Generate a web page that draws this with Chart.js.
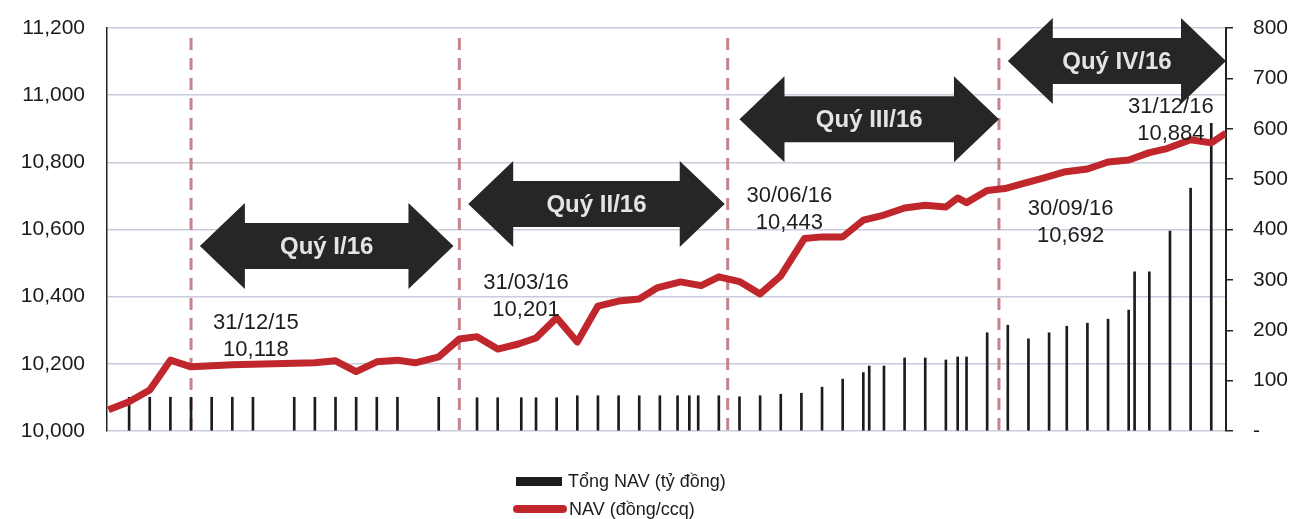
<!DOCTYPE html>
<html>
<head>
<meta charset="utf-8">
<script src="https://cdn.jsdelivr.net/npm/chart.js@4.4.1/dist/chart.umd.min.js"></script>
<style>
  body { margin: 0; background: #fff; }
  #wrap { width: 1297px; height: 519px; }
</style>
</head>
<body>
<div id="wrap"><canvas id="navChart" width="1297" height="519"></canvas></div>
<script>
// days counted from 31/12/2015
const navDays = [-28, -21, -14, -7, 0, 7, 14, 21, 28, 35, 42, 49, 56, 63, 70, 76, 84, 91, 97, 104,
    111, 117, 124, 131, 138, 145, 152, 158, 166, 173, 179, 186, 193, 200, 208, 214, 221, 228, 235, 242,
    249, 256, 260, 263, 270, 276, 283, 289, 296, 304, 311, 318, 325, 331, 339, 346, 351];
const navValues = [10063, 10087, 10122, 10211, 10191, 10194, 10197, 10199, 10200, 10202, 10203, 10209, 10177, 10206, 10211, 10203, 10221, 10274, 10281, 10244,
    10259, 10277, 10337, 10265, 10372, 10387, 10393, 10426, 10444, 10433, 10459, 10445, 10408, 10462, 10573, 10578, 10578, 10628, 10643, 10664,
    10672, 10667, 10694, 10680, 10716, 10722, 10739, 10753, 10771, 10780, 10801, 10807, 10829, 10841, 10867, 10858, 10887];

const aumDays = [-21, -14, -7, 0, 7, 14, 21, 35, 42, 49, 56, 63, 70, 84, 97, 104, 112, 117, 124,
    131, 138, 145, 152, 159, 165, 169, 172, 179, 186, 193, 200, 207, 214, 221, 228, 230, 235,
    242, 249, 256, 260, 263, 270, 277, 284, 291, 297, 304, 311, 318, 320, 325, 332, 339, 346];
const aumValues = [67, 67, 67, 67, 67, 67, 67, 67, 67, 67, 67, 67, 67, 67, 66, 66, 66, 66, 66,
    70, 70, 70, 70, 70, 70, 70, 70, 70, 68, 70, 73, 75, 87, 103, 116, 129, 129,
    145, 145, 141, 147, 147, 195, 210, 183, 195, 208, 214, 222, 240, 316, 316, 397, 482, 611];

const quarterEnds = [0, 91, 182, 274];
const quarterNames = ['Quý I/16', 'Quý II/16', 'Quý III/16', 'Quý IV/16'];
const arrowSpans = [[3, 89], [94, 181], [186, 274], [277, 351]];
const arrowLevels = [10551, 10676, 10928, 11102];

const pointDates = ['31/12/15', '31/03/16', '30/06/16', '30/09/16', '31/12/16'];
const pointNav = [10118, 10201, 10443, 10692, 10884];
const pointLabelDays = [22, 113.6, 202.9, 298.3, 332.3];
const pointLabelLevels = [10322, 10441, 10700, 10661, 10965];

function drawArrow(ctx, x1, x2, cy) {
    const head = 45, headH = 43, shaftH = 23;
    ctx.beginPath();
    ctx.moveTo(x1, cy);
    ctx.lineTo(x1 + head, cy - headH);
    ctx.lineTo(x1 + head, cy - shaftH);
    ctx.lineTo(x2 - head, cy - shaftH);
    ctx.lineTo(x2 - head, cy - headH);
    ctx.lineTo(x2, cy);
    ctx.lineTo(x2 - head, cy + headH);
    ctx.lineTo(x2 - head, cy + shaftH);
    ctx.lineTo(x1 + head, cy + shaftH);
    ctx.lineTo(x1 + head, cy + headH);
    ctx.closePath();
    ctx.fill();
}

// keep the tick padding from pushing the plot area down
function fixAxis(width) {
    return s => { s.width = width; s.paddingTop = 10; s.paddingBottom = 10; };
}

const annotations = {
    id: 'annotations',
    beforeDatasetsDraw(chart) {
        const { ctx, chartArea, scales } = chart;
        ctx.save();
        ctx.strokeStyle = '#c4838d';
        ctx.lineWidth = 3;
        ctx.setLineDash([12, 8]);
        quarterEnds.forEach(d => {
            const x = scales.x.getPixelForValue(d);
            ctx.beginPath();
            ctx.moveTo(x, chartArea.top + 10);
            ctx.lineTo(x, chartArea.bottom + 2);
            ctx.stroke();
        });
        ctx.restore();
    },
    afterDatasetsDraw(chart) {
        const { ctx, scales } = chart;
        ctx.save();
        // quarter arrows
        arrowSpans.forEach((span, i) => {
            const x1 = scales.x.getPixelForValue(span[0]);
            const x2 = scales.x.getPixelForValue(span[1]);
            const cy = scales.y.getPixelForValue(arrowLevels[i]);
            ctx.fillStyle = '#262626';
            drawArrow(ctx, x1, x2, cy);
            ctx.fillStyle = '#e4e4e4';
            ctx.font = 'bold 24px "Liberation Sans", Arial, sans-serif';
            ctx.textAlign = 'center';
            ctx.textBaseline = 'middle';
            ctx.fillText(quarterNames[i], (x1 + x2) / 2, cy + 1);
        });
        // date / NAV labels
        ctx.fillStyle = '#1e1e1e';
        ctx.font = '22px "Liberation Sans", Arial, sans-serif';
        pointDates.forEach((d, i) => {
            const x = scales.x.getPixelForValue(pointLabelDays[i]);
            const y = scales.y.getPixelForValue(pointLabelLevels[i]);
            ctx.fillText(d, x, y);
            ctx.fillText(pointNav[i].toLocaleString('en-US'), x, y + 27);
        });
        ctx.restore();
    },
    afterDraw(chart) {
        const ctx = chart.ctx;
        const ds = chart.data.datasets;
        ctx.save();
        ctx.font = '18px "Liberation Sans", Arial, sans-serif';
        ctx.textBaseline = 'middle';
        ctx.textAlign = 'left';
        // legend: bars
        ctx.fillStyle = '#1c1c1c';
        ctx.fillRect(516, 477, 46, 9);
        ctx.fillText(ds[1].label, 568, 482);
        // legend: line
        ctx.strokeStyle = ds[0].borderColor;
        ctx.lineWidth = 8;
        ctx.lineCap = 'round';
        ctx.beginPath();
        ctx.moveTo(517, 509);
        ctx.lineTo(563, 509);
        ctx.stroke();
        ctx.fillStyle = '#1c1c1c';
        ctx.fillText(ds[0].label, 569, 510);
        ctx.restore();
    }
};

const ctx = document.getElementById('navChart').getContext('2d');
new Chart(ctx, {
    type: 'bar',
    data: {
        datasets: [
            {
                type: 'line',
                label: 'NAV (đồng/ccq)',
                data: navDays.map((d, i) => ({ x: d, y: navValues[i] })),
                yAxisID: 'y',
                borderColor: '#c0272d',
                borderWidth: 7,
                borderJoinStyle: 'round',
                pointRadius: 0,
                tension: 0,
                order: 0
            },
            {
                type: 'bar',
                label: 'Tổng NAV (tỷ đồng)',
                data: aumDays.map((d, i) => ({ x: d, y: aumValues[i] })),
                yAxisID: 'y1',
                backgroundColor: '#1c1c1c',
                barThickness: 2,
                order: 1
            }
        ]
    },
    options: {
        responsive: false,
        animation: false,
        layout: { padding: { top: 28, bottom: 88, left: 0, right: 0 } },
        plugins: {
            legend: { display: false },
            tooltip: { enabled: false }
        },
        scales: {
            x: { type: 'linear', min: -28.5, max: 351, offset: false, display: false },
            y: {
                position: 'left',
                min: 10000, max: 11200,
                afterFit: fixAxis(107),
                ticks: {
                    stepSize: 200, padding: 22, color: '#1a1a1a',
                    font: { family: '"Liberation Sans", Arial, sans-serif', size: 21 },
                    callback: v => v.toLocaleString('en-US')
                },
                grid: { color: '#c9cbdb', lineWidth: 1.5, drawTicks: false },
                border: { color: '#222', width: 1.5 }
            },
            y1: {
                position: 'right',
                min: 0, max: 800,
                afterFit: fixAxis(71),
                ticks: {
                    stepSize: 100, padding: 20, color: '#1a1a1a',
                    font: { family: '"Liberation Sans", Arial, sans-serif', size: 21 },
                    callback: v => v === 0 ? '-' : v
                },
                grid: { drawOnChartArea: false, tickLength: 7, color: '#222', lineWidth: 1.5 },
                border: { color: '#222', width: 2 }
            }
        }
    },
    plugins: [annotations]
});
</script>
</body>
</html>
